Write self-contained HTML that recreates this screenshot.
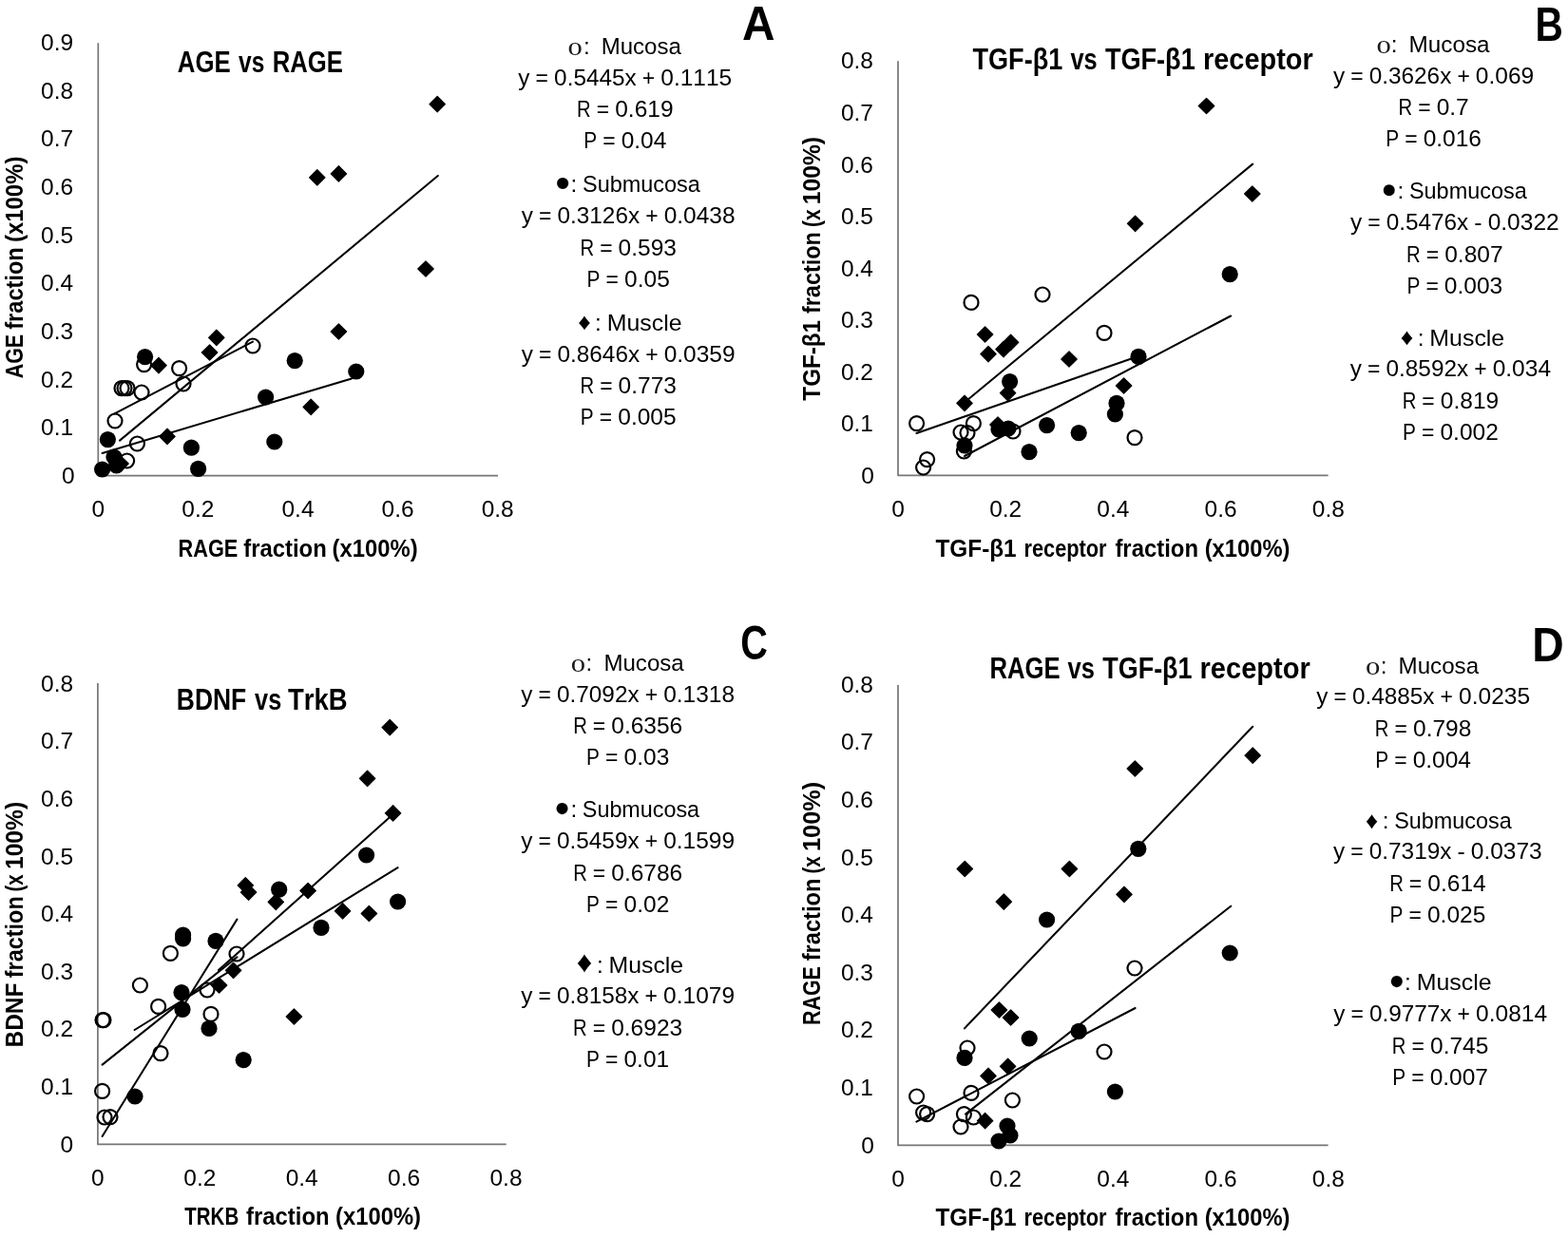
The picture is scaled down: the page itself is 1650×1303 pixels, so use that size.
<!DOCTYPE html>
<html lang="en"><head><meta charset="utf-8"><title>Figure</title>
<style>
html,body{margin:0;padding:0;background:#fff}
body{width:1650px;height:1303px;overflow:hidden}
svg{display:block}
text{fill:#000;font-kerning:none}
</style></head><body>
<svg width="1650" height="1303" viewBox="0 0 1650 1303">
<rect width="1650" height="1303" fill="#fff"/>
<g id="shapes">
<path d="M103.30 45.20V500.70H524.00" fill="none" stroke="#767676" stroke-width="1.70" stroke-linejoin="round"/>
<path d="M945.00 64.30V500.30H1397.60" fill="none" stroke="#767676" stroke-width="1.70" stroke-linejoin="round"/>
<path d="M102.90 719.10V1204.45H532.70" fill="none" stroke="#767676" stroke-width="1.70" stroke-linejoin="round"/>
<path d="M945.00 721.00V1205.40H1397.60" fill="none" stroke="#767676" stroke-width="1.70" stroke-linejoin="round"/>
<path d="M118.8 488.0l8.2 -8.2l8.2 8.2l-8.2 8.2z" stroke="#000" stroke-width="1.2" stroke-linejoin="round"/>
<path d="M158.8 384.6l8.2 -8.2l8.2 8.2l-8.2 8.2z" stroke="#000" stroke-width="1.2" stroke-linejoin="round"/>
<path d="M167.8 459.4l8.2 -8.2l8.2 8.2l-8.2 8.2z" stroke="#000" stroke-width="1.2" stroke-linejoin="round"/>
<path d="M212.4 371.0l8.2 -8.2l8.2 8.2l-8.2 8.2z" stroke="#000" stroke-width="1.2" stroke-linejoin="round"/>
<path d="M219.6 355.4l8.2 -8.2l8.2 8.2l-8.2 8.2z" stroke="#000" stroke-width="1.2" stroke-linejoin="round"/>
<path d="M319.0 428.4l8.2 -8.2l8.2 8.2l-8.2 8.2z" stroke="#000" stroke-width="1.2" stroke-linejoin="round"/>
<path d="M348.2 349.0l8.2 -8.2l8.2 8.2l-8.2 8.2z" stroke="#000" stroke-width="1.2" stroke-linejoin="round"/>
<path d="M325.6 186.8l8.2 -8.2l8.2 8.2l-8.2 8.2z" stroke="#000" stroke-width="1.2" stroke-linejoin="round"/>
<path d="M348.2 182.9l8.2 -8.2l8.2 8.2l-8.2 8.2z" stroke="#000" stroke-width="1.2" stroke-linejoin="round"/>
<path d="M452.0 109.7l8.2 -8.2l8.2 8.2l-8.2 8.2z" stroke="#000" stroke-width="1.2" stroke-linejoin="round"/>
<path d="M439.8 283.0l8.2 -8.2l8.2 8.2l-8.2 8.2z" stroke="#000" stroke-width="1.2" stroke-linejoin="round"/>
<circle cx="121.0" cy="443.0" r="7.5" fill="none" stroke="#000" stroke-width="2.2"/>
<circle cx="144.4" cy="467.0" r="7.5" fill="none" stroke="#000" stroke-width="2.2"/>
<circle cx="133.6" cy="485.0" r="7.5" fill="none" stroke="#000" stroke-width="2.2"/>
<circle cx="128.0" cy="408.6" r="7.5" fill="none" stroke="#000" stroke-width="2.2"/>
<circle cx="131.0" cy="408.6" r="7.5" fill="none" stroke="#000" stroke-width="2.2"/>
<circle cx="134.0" cy="408.6" r="7.5" fill="none" stroke="#000" stroke-width="2.2"/>
<circle cx="149.0" cy="413.0" r="7.5" fill="none" stroke="#000" stroke-width="2.2"/>
<circle cx="151.6" cy="383.6" r="7.5" fill="none" stroke="#000" stroke-width="2.2"/>
<circle cx="188.6" cy="387.6" r="7.5" fill="none" stroke="#000" stroke-width="2.2"/>
<circle cx="193.0" cy="404.0" r="7.5" fill="none" stroke="#000" stroke-width="2.2"/>
<circle cx="266.0" cy="364.0" r="7.5" fill="none" stroke="#000" stroke-width="2.2"/>
<circle cx="107.6" cy="494.0" r="8.6"/>
<circle cx="113.4" cy="462.6" r="8.6"/>
<circle cx="120.0" cy="481.0" r="8.6"/>
<circle cx="122.6" cy="490.0" r="8.6"/>
<circle cx="152.6" cy="375.6" r="8.6"/>
<circle cx="201.4" cy="471.2" r="8.6"/>
<circle cx="208.6" cy="493.4" r="8.6"/>
<circle cx="279.6" cy="418.0" r="8.6"/>
<circle cx="288.8" cy="465.0" r="8.6"/>
<circle cx="310.2" cy="379.6" r="8.6"/>
<circle cx="374.8" cy="391.0" r="8.6"/>
<path d="M120.0 435.6L266.0 359.6" fill="none" stroke="#000" stroke-width="2.05" stroke-linecap="round"/>
<path d="M107.6 477.0L370.0 398.4" fill="none" stroke="#000" stroke-width="2.05" stroke-linecap="round"/>
<path d="M126.0 463.6L460.8 185.0" fill="none" stroke="#000" stroke-width="2.05" stroke-linecap="round"/>
<path d="M1006.8 424.4l8.2 -8.2l8.2 8.2l-8.2 8.2z" stroke="#000" stroke-width="1.2" stroke-linejoin="round"/>
<path d="M1028.4 352.0l8.2 -8.2l8.2 8.2l-8.2 8.2z" stroke="#000" stroke-width="1.2" stroke-linejoin="round"/>
<path d="M1031.8 372.6l8.2 -8.2l8.2 8.2l-8.2 8.2z" stroke="#000" stroke-width="1.2" stroke-linejoin="round"/>
<path d="M1047.8 367.6l8.2 -8.2l8.2 8.2l-8.2 8.2z" stroke="#000" stroke-width="1.2" stroke-linejoin="round"/>
<path d="M1055.4 360.4l8.2 -8.2l8.2 8.2l-8.2 8.2z" stroke="#000" stroke-width="1.2" stroke-linejoin="round"/>
<path d="M1052.4 413.6l8.2 -8.2l8.2 8.2l-8.2 8.2z" stroke="#000" stroke-width="1.2" stroke-linejoin="round"/>
<path d="M1041.8 447.0l8.2 -8.2l8.2 8.2l-8.2 8.2z" stroke="#000" stroke-width="1.2" stroke-linejoin="round"/>
<path d="M1116.8 378.0l8.2 -8.2l8.2 8.2l-8.2 8.2z" stroke="#000" stroke-width="1.2" stroke-linejoin="round"/>
<path d="M1174.4 406.0l8.2 -8.2l8.2 8.2l-8.2 8.2z" stroke="#000" stroke-width="1.2" stroke-linejoin="round"/>
<path d="M1186.4 235.4l8.2 -8.2l8.2 8.2l-8.2 8.2z" stroke="#000" stroke-width="1.2" stroke-linejoin="round"/>
<path d="M1261.3 111.5l8.2 -8.2l8.2 8.2l-8.2 8.2z" stroke="#000" stroke-width="1.2" stroke-linejoin="round"/>
<path d="M1309.6 204.0l8.2 -8.2l8.2 8.2l-8.2 8.2z" stroke="#000" stroke-width="1.2" stroke-linejoin="round"/>
<circle cx="964.6" cy="445.6" r="7.5" fill="none" stroke="#000" stroke-width="2.2"/>
<circle cx="971.6" cy="492.0" r="7.5" fill="none" stroke="#000" stroke-width="2.2"/>
<circle cx="975.6" cy="483.6" r="7.5" fill="none" stroke="#000" stroke-width="2.2"/>
<circle cx="1011.0" cy="455.0" r="7.5" fill="none" stroke="#000" stroke-width="2.2"/>
<circle cx="1018.0" cy="455.6" r="7.5" fill="none" stroke="#000" stroke-width="2.2"/>
<circle cx="1024.4" cy="445.6" r="7.5" fill="none" stroke="#000" stroke-width="2.2"/>
<circle cx="1014.4" cy="475.0" r="7.5" fill="none" stroke="#000" stroke-width="2.2"/>
<circle cx="1022.0" cy="318.4" r="7.5" fill="none" stroke="#000" stroke-width="2.2"/>
<circle cx="1066.0" cy="454.0" r="7.5" fill="none" stroke="#000" stroke-width="2.2"/>
<circle cx="1097.0" cy="310.0" r="7.5" fill="none" stroke="#000" stroke-width="2.2"/>
<circle cx="1162.0" cy="350.4" r="7.5" fill="none" stroke="#000" stroke-width="2.2"/>
<circle cx="1194.0" cy="460.6" r="7.5" fill="none" stroke="#000" stroke-width="2.2"/>
<circle cx="1015.0" cy="469.0" r="8.6"/>
<circle cx="1051.0" cy="452.0" r="8.6"/>
<circle cx="1061.0" cy="451.0" r="8.6"/>
<circle cx="1062.6" cy="401.6" r="8.6"/>
<circle cx="1083.0" cy="475.6" r="8.6"/>
<circle cx="1101.6" cy="447.6" r="8.6"/>
<circle cx="1135.2" cy="455.6" r="8.6"/>
<circle cx="1175.0" cy="424.4" r="8.6"/>
<circle cx="1173.4" cy="436.0" r="8.6"/>
<circle cx="1198.0" cy="375.4" r="8.6"/>
<circle cx="1294.2" cy="288.7" r="8.6"/>
<path d="M964.4 456.0L1192.0 377.0" fill="none" stroke="#000" stroke-width="2.05" stroke-linecap="round"/>
<path d="M1015.0 480.0L1295.2 332.5" fill="none" stroke="#000" stroke-width="2.05" stroke-linecap="round"/>
<path d="M1018.0 421.0L1318.2 172.6" fill="none" stroke="#000" stroke-width="2.05" stroke-linecap="round"/>
<path d="M222.4 1037.0l8.2 -8.2l8.2 8.2l-8.2 8.2z" stroke="#000" stroke-width="1.2" stroke-linejoin="round"/>
<path d="M237.4 1021.4l8.2 -8.2l8.2 8.2l-8.2 8.2z" stroke="#000" stroke-width="1.2" stroke-linejoin="round"/>
<path d="M301.2 1070.0l8.2 -8.2l8.2 8.2l-8.2 8.2z" stroke="#000" stroke-width="1.2" stroke-linejoin="round"/>
<path d="M352.4 958.8l8.2 -8.2l8.2 8.2l-8.2 8.2z" stroke="#000" stroke-width="1.2" stroke-linejoin="round"/>
<path d="M380.2 961.5l8.2 -8.2l8.2 8.2l-8.2 8.2z" stroke="#000" stroke-width="1.2" stroke-linejoin="round"/>
<path d="M402.0 765.7l8.2 -8.2l8.2 8.2l-8.2 8.2z" stroke="#000" stroke-width="1.2" stroke-linejoin="round"/>
<path d="M378.4 819.4l8.2 -8.2l8.2 8.2l-8.2 8.2z" stroke="#000" stroke-width="1.2" stroke-linejoin="round"/>
<path d="M405.4 855.8l8.2 -8.2l8.2 8.2l-8.2 8.2z" stroke="#000" stroke-width="1.2" stroke-linejoin="round"/>
<path d="M250.1 931.8l8.2 -8.2l8.2 8.2l-8.2 8.2z" stroke="#000" stroke-width="1.2" stroke-linejoin="round"/>
<path d="M253.4 939.2l8.2 -8.2l8.2 8.2l-8.2 8.2z" stroke="#000" stroke-width="1.2" stroke-linejoin="round"/>
<path d="M282.1 949.3l8.2 -8.2l8.2 8.2l-8.2 8.2z" stroke="#000" stroke-width="1.2" stroke-linejoin="round"/>
<path d="M315.9 937.5l8.2 -8.2l8.2 8.2l-8.2 8.2z" stroke="#000" stroke-width="1.2" stroke-linejoin="round"/>
<circle cx="109.0" cy="1073.6" r="7.5" fill="none" stroke="#000" stroke-width="2.2"/>
<circle cx="108.0" cy="1073.6" r="7.5" fill="none" stroke="#000" stroke-width="2.2"/>
<circle cx="107.6" cy="1148.4" r="7.5" fill="none" stroke="#000" stroke-width="2.2"/>
<circle cx="110.0" cy="1176.0" r="7.5" fill="none" stroke="#000" stroke-width="2.2"/>
<circle cx="116.0" cy="1175.6" r="7.5" fill="none" stroke="#000" stroke-width="2.2"/>
<circle cx="147.4" cy="1037.0" r="7.5" fill="none" stroke="#000" stroke-width="2.2"/>
<circle cx="166.6" cy="1059.4" r="7.5" fill="none" stroke="#000" stroke-width="2.2"/>
<circle cx="169.0" cy="1108.6" r="7.5" fill="none" stroke="#000" stroke-width="2.2"/>
<circle cx="179.4" cy="1003.4" r="7.5" fill="none" stroke="#000" stroke-width="2.2"/>
<circle cx="218.0" cy="1042.0" r="7.5" fill="none" stroke="#000" stroke-width="2.2"/>
<circle cx="222.0" cy="1067.4" r="7.5" fill="none" stroke="#000" stroke-width="2.2"/>
<circle cx="249.0" cy="1004.0" r="7.5" fill="none" stroke="#000" stroke-width="2.2"/>
<circle cx="142.0" cy="1154.0" r="8.6"/>
<circle cx="192.6" cy="984.0" r="8.6"/>
<circle cx="192.6" cy="988.0" r="8.6"/>
<circle cx="191.0" cy="1044.6" r="8.6"/>
<circle cx="192.0" cy="1062.4" r="8.6"/>
<circle cx="227.0" cy="990.4" r="8.6"/>
<circle cx="220.0" cy="1082.4" r="8.6"/>
<circle cx="256.2" cy="1115.6" r="8.6"/>
<circle cx="338.0" cy="976.4" r="8.6"/>
<circle cx="385.6" cy="900.0" r="8.6"/>
<circle cx="293.7" cy="936.2" r="8.6"/>
<circle cx="418.6" cy="949.0" r="8.6"/>
<path d="M107.6 1120.6L249.4 1007.4" fill="none" stroke="#000" stroke-width="2.05" stroke-linecap="round"/>
<path d="M141.6 1084.0L418.6 913.2" fill="none" stroke="#000" stroke-width="2.05" stroke-linecap="round"/>
<path d="M230.0 1021.0L413.6 857.0" fill="none" stroke="#000" stroke-width="2.05" stroke-linecap="round"/>
<path d="M107.6 1196.0L249.4 967.6" fill="none" stroke="#000" stroke-width="2.05" stroke-linecap="round"/>
<path d="M1043.2 1063.0l8.2 -8.2l8.2 8.2l-8.2 8.2z" stroke="#000" stroke-width="1.2" stroke-linejoin="round"/>
<path d="M1055.4 1071.0l8.2 -8.2l8.2 8.2l-8.2 8.2z" stroke="#000" stroke-width="1.2" stroke-linejoin="round"/>
<path d="M1052.4 1122.4l8.2 -8.2l8.2 8.2l-8.2 8.2z" stroke="#000" stroke-width="1.2" stroke-linejoin="round"/>
<path d="M1031.8 1132.4l8.2 -8.2l8.2 8.2l-8.2 8.2z" stroke="#000" stroke-width="1.2" stroke-linejoin="round"/>
<path d="M1028.4 1179.6l8.2 -8.2l8.2 8.2l-8.2 8.2z" stroke="#000" stroke-width="1.2" stroke-linejoin="round"/>
<path d="M1007.1 914.5l8.2 -8.2l8.2 8.2l-8.2 8.2z" stroke="#000" stroke-width="1.2" stroke-linejoin="round"/>
<path d="M1048.1 949.1l8.2 -8.2l8.2 8.2l-8.2 8.2z" stroke="#000" stroke-width="1.2" stroke-linejoin="round"/>
<path d="M1117.2 914.5l8.2 -8.2l8.2 8.2l-8.2 8.2z" stroke="#000" stroke-width="1.2" stroke-linejoin="round"/>
<path d="M1174.8 941.3l8.2 -8.2l8.2 8.2l-8.2 8.2z" stroke="#000" stroke-width="1.2" stroke-linejoin="round"/>
<path d="M1186.1 809.0l8.2 -8.2l8.2 8.2l-8.2 8.2z" stroke="#000" stroke-width="1.2" stroke-linejoin="round"/>
<path d="M1310.0 795.2l8.2 -8.2l8.2 8.2l-8.2 8.2z" stroke="#000" stroke-width="1.2" stroke-linejoin="round"/>
<circle cx="964.6" cy="1154.0" r="7.5" fill="none" stroke="#000" stroke-width="2.2"/>
<circle cx="971.6" cy="1171.0" r="7.5" fill="none" stroke="#000" stroke-width="2.2"/>
<circle cx="975.6" cy="1172.6" r="7.5" fill="none" stroke="#000" stroke-width="2.2"/>
<circle cx="1011.0" cy="1186.0" r="7.5" fill="none" stroke="#000" stroke-width="2.2"/>
<circle cx="1014.4" cy="1172.6" r="7.5" fill="none" stroke="#000" stroke-width="2.2"/>
<circle cx="1024.4" cy="1176.0" r="7.5" fill="none" stroke="#000" stroke-width="2.2"/>
<circle cx="1022.0" cy="1150.4" r="7.5" fill="none" stroke="#000" stroke-width="2.2"/>
<circle cx="1018.0" cy="1103.0" r="7.5" fill="none" stroke="#000" stroke-width="2.2"/>
<circle cx="1065.4" cy="1158.0" r="7.5" fill="none" stroke="#000" stroke-width="2.2"/>
<circle cx="1162.0" cy="1107.0" r="7.5" fill="none" stroke="#000" stroke-width="2.2"/>
<circle cx="1194.0" cy="1019.0" r="7.5" fill="none" stroke="#000" stroke-width="2.2"/>
<circle cx="1015.0" cy="1113.4" r="8.6"/>
<circle cx="1051.0" cy="1201.0" r="8.6"/>
<circle cx="1060.0" cy="1185.0" r="8.6"/>
<circle cx="1063.0" cy="1195.0" r="8.6"/>
<circle cx="1083.2" cy="1093.0" r="8.6"/>
<circle cx="1101.6" cy="968.0" r="8.6"/>
<circle cx="1135.2" cy="1085.4" r="8.6"/>
<circle cx="1173.4" cy="1149.0" r="8.6"/>
<circle cx="1197.8" cy="893.3" r="8.6"/>
<circle cx="1294.2" cy="1003.0" r="8.6"/>
<path d="M1015.0 1082.4L1318.2 764.8" fill="none" stroke="#000" stroke-width="2.05" stroke-linecap="round"/>
<path d="M1016.0 1172.6L1295.2 953.7" fill="none" stroke="#000" stroke-width="2.05" stroke-linecap="round"/>
<path d="M964.4 1180.6L1194.6 1061.0" fill="none" stroke="#000" stroke-width="2.05" stroke-linecap="round"/>
</g>
<g id="labels">
<text y="508.90" font-family='"Liberation Sans", sans-serif' font-size="24.30"><tspan x="64.97" y="508.90" textLength="13.63" lengthAdjust="spacingAndGlyphs">0</tspan></text>
<text y="458.26" font-family='"Liberation Sans", sans-serif' font-size="24.30"><tspan x="43.14" y="458.26" textLength="34.06" lengthAdjust="spacingAndGlyphs">0.1</tspan></text>
<text y="407.62" font-family='"Liberation Sans", sans-serif' font-size="24.30"><tspan x="43.14" y="407.62" textLength="34.06" lengthAdjust="spacingAndGlyphs">0.2</tspan></text>
<text y="356.98" font-family='"Liberation Sans", sans-serif' font-size="24.30"><tspan x="43.14" y="356.98" textLength="34.06" lengthAdjust="spacingAndGlyphs">0.3</tspan></text>
<text y="306.34" font-family='"Liberation Sans", sans-serif' font-size="24.30"><tspan x="43.14" y="306.34" textLength="34.06" lengthAdjust="spacingAndGlyphs">0.4</tspan></text>
<text y="255.70" font-family='"Liberation Sans", sans-serif' font-size="24.30"><tspan x="43.14" y="255.70" textLength="34.06" lengthAdjust="spacingAndGlyphs">0.5</tspan></text>
<text y="205.06" font-family='"Liberation Sans", sans-serif' font-size="24.30"><tspan x="43.14" y="205.06" textLength="34.06" lengthAdjust="spacingAndGlyphs">0.6</tspan></text>
<text y="154.42" font-family='"Liberation Sans", sans-serif' font-size="24.30"><tspan x="43.14" y="154.42" textLength="34.06" lengthAdjust="spacingAndGlyphs">0.7</tspan></text>
<text y="103.78" font-family='"Liberation Sans", sans-serif' font-size="24.30"><tspan x="43.14" y="103.78" textLength="34.06" lengthAdjust="spacingAndGlyphs">0.8</tspan></text>
<text y="53.14" font-family='"Liberation Sans", sans-serif' font-size="24.30"><tspan x="43.14" y="53.14" textLength="34.06" lengthAdjust="spacingAndGlyphs">0.9</tspan></text>
<text y="544.40" font-family='"Liberation Sans", sans-serif' font-size="24.30"><tspan x="96.48" y="544.40" textLength="13.63" lengthAdjust="spacingAndGlyphs">0</tspan></text>
<text y="544.40" font-family='"Liberation Sans", sans-serif' font-size="24.30"><tspan x="191.37" y="544.40" textLength="34.06" lengthAdjust="spacingAndGlyphs">0.2</tspan></text>
<text y="544.40" font-family='"Liberation Sans", sans-serif' font-size="24.30"><tspan x="296.47" y="544.40" textLength="34.06" lengthAdjust="spacingAndGlyphs">0.4</tspan></text>
<text y="544.40" font-family='"Liberation Sans", sans-serif' font-size="24.30"><tspan x="401.57" y="544.40" textLength="34.06" lengthAdjust="spacingAndGlyphs">0.6</tspan></text>
<text y="544.40" font-family='"Liberation Sans", sans-serif' font-size="24.30"><tspan x="506.67" y="544.40" textLength="34.06" lengthAdjust="spacingAndGlyphs">0.8</tspan></text>
<text y="508.90" font-family='"Liberation Sans", sans-serif' font-size="24.30"><tspan x="906.17" y="508.90" textLength="13.63" lengthAdjust="spacingAndGlyphs">0</tspan></text>
<text y="454.34" font-family='"Liberation Sans", sans-serif' font-size="24.30"><tspan x="884.94" y="454.34" textLength="34.06" lengthAdjust="spacingAndGlyphs">0.1</tspan></text>
<text y="399.78" font-family='"Liberation Sans", sans-serif' font-size="24.30"><tspan x="884.94" y="399.78" textLength="34.06" lengthAdjust="spacingAndGlyphs">0.2</tspan></text>
<text y="345.22" font-family='"Liberation Sans", sans-serif' font-size="24.30"><tspan x="884.94" y="345.22" textLength="34.06" lengthAdjust="spacingAndGlyphs">0.3</tspan></text>
<text y="290.66" font-family='"Liberation Sans", sans-serif' font-size="24.30"><tspan x="884.94" y="290.66" textLength="34.06" lengthAdjust="spacingAndGlyphs">0.4</tspan></text>
<text y="236.10" font-family='"Liberation Sans", sans-serif' font-size="24.30"><tspan x="884.94" y="236.10" textLength="34.06" lengthAdjust="spacingAndGlyphs">0.5</tspan></text>
<text y="181.54" font-family='"Liberation Sans", sans-serif' font-size="24.30"><tspan x="884.94" y="181.54" textLength="34.06" lengthAdjust="spacingAndGlyphs">0.6</tspan></text>
<text y="126.98" font-family='"Liberation Sans", sans-serif' font-size="24.30"><tspan x="884.94" y="126.98" textLength="34.06" lengthAdjust="spacingAndGlyphs">0.7</tspan></text>
<text y="72.42" font-family='"Liberation Sans", sans-serif' font-size="24.30"><tspan x="884.94" y="72.42" textLength="34.06" lengthAdjust="spacingAndGlyphs">0.8</tspan></text>
<text y="544.30" font-family='"Liberation Sans", sans-serif' font-size="24.30"><tspan x="938.18" y="544.30" textLength="13.63" lengthAdjust="spacingAndGlyphs">0</tspan></text>
<text y="544.30" font-family='"Liberation Sans", sans-serif' font-size="24.30"><tspan x="1041.17" y="544.30" textLength="34.06" lengthAdjust="spacingAndGlyphs">0.2</tspan></text>
<text y="544.30" font-family='"Liberation Sans", sans-serif' font-size="24.30"><tspan x="1154.37" y="544.30" textLength="34.06" lengthAdjust="spacingAndGlyphs">0.4</tspan></text>
<text y="544.30" font-family='"Liberation Sans", sans-serif' font-size="24.30"><tspan x="1267.57" y="544.30" textLength="34.06" lengthAdjust="spacingAndGlyphs">0.6</tspan></text>
<text y="544.30" font-family='"Liberation Sans", sans-serif' font-size="24.30"><tspan x="1380.77" y="544.30" textLength="34.06" lengthAdjust="spacingAndGlyphs">0.8</tspan></text>
<text y="1212.50" font-family='"Liberation Sans", sans-serif' font-size="24.30"><tspan x="63.57" y="1212.50" textLength="13.63" lengthAdjust="spacingAndGlyphs">0</tspan></text>
<text y="1151.91" font-family='"Liberation Sans", sans-serif' font-size="24.30"><tspan x="43.14" y="1151.91" textLength="34.06" lengthAdjust="spacingAndGlyphs">0.1</tspan></text>
<text y="1091.32" font-family='"Liberation Sans", sans-serif' font-size="24.30"><tspan x="43.14" y="1091.32" textLength="34.06" lengthAdjust="spacingAndGlyphs">0.2</tspan></text>
<text y="1030.73" font-family='"Liberation Sans", sans-serif' font-size="24.30"><tspan x="43.14" y="1030.73" textLength="34.06" lengthAdjust="spacingAndGlyphs">0.3</tspan></text>
<text y="970.14" font-family='"Liberation Sans", sans-serif' font-size="24.30"><tspan x="43.14" y="970.14" textLength="34.06" lengthAdjust="spacingAndGlyphs">0.4</tspan></text>
<text y="909.55" font-family='"Liberation Sans", sans-serif' font-size="24.30"><tspan x="43.14" y="909.55" textLength="34.06" lengthAdjust="spacingAndGlyphs">0.5</tspan></text>
<text y="848.96" font-family='"Liberation Sans", sans-serif' font-size="24.30"><tspan x="43.14" y="848.96" textLength="34.06" lengthAdjust="spacingAndGlyphs">0.6</tspan></text>
<text y="788.37" font-family='"Liberation Sans", sans-serif' font-size="24.30"><tspan x="43.14" y="788.37" textLength="34.06" lengthAdjust="spacingAndGlyphs">0.7</tspan></text>
<text y="727.78" font-family='"Liberation Sans", sans-serif' font-size="24.30"><tspan x="43.14" y="727.78" textLength="34.06" lengthAdjust="spacingAndGlyphs">0.8</tspan></text>
<text y="1248.00" font-family='"Liberation Sans", sans-serif' font-size="24.30"><tspan x="96.08" y="1248.00" textLength="13.63" lengthAdjust="spacingAndGlyphs">0</tspan></text>
<text y="1248.00" font-family='"Liberation Sans", sans-serif' font-size="24.30"><tspan x="193.27" y="1248.00" textLength="34.06" lengthAdjust="spacingAndGlyphs">0.2</tspan></text>
<text y="1248.00" font-family='"Liberation Sans", sans-serif' font-size="24.30"><tspan x="300.67" y="1248.00" textLength="34.06" lengthAdjust="spacingAndGlyphs">0.4</tspan></text>
<text y="1248.00" font-family='"Liberation Sans", sans-serif' font-size="24.30"><tspan x="408.07" y="1248.00" textLength="34.06" lengthAdjust="spacingAndGlyphs">0.6</tspan></text>
<text y="1248.00" font-family='"Liberation Sans", sans-serif' font-size="24.30"><tspan x="515.47" y="1248.00" textLength="34.06" lengthAdjust="spacingAndGlyphs">0.8</tspan></text>
<text y="1213.60" font-family='"Liberation Sans", sans-serif' font-size="24.30"><tspan x="906.17" y="1213.60" textLength="13.63" lengthAdjust="spacingAndGlyphs">0</tspan></text>
<text y="1152.98" font-family='"Liberation Sans", sans-serif' font-size="24.30"><tspan x="884.94" y="1152.98" textLength="34.06" lengthAdjust="spacingAndGlyphs">0.1</tspan></text>
<text y="1092.36" font-family='"Liberation Sans", sans-serif' font-size="24.30"><tspan x="884.94" y="1092.36" textLength="34.06" lengthAdjust="spacingAndGlyphs">0.2</tspan></text>
<text y="1031.74" font-family='"Liberation Sans", sans-serif' font-size="24.30"><tspan x="884.94" y="1031.74" textLength="34.06" lengthAdjust="spacingAndGlyphs">0.3</tspan></text>
<text y="971.12" font-family='"Liberation Sans", sans-serif' font-size="24.30"><tspan x="884.94" y="971.12" textLength="34.06" lengthAdjust="spacingAndGlyphs">0.4</tspan></text>
<text y="910.50" font-family='"Liberation Sans", sans-serif' font-size="24.30"><tspan x="884.94" y="910.50" textLength="34.06" lengthAdjust="spacingAndGlyphs">0.5</tspan></text>
<text y="849.88" font-family='"Liberation Sans", sans-serif' font-size="24.30"><tspan x="884.94" y="849.88" textLength="34.06" lengthAdjust="spacingAndGlyphs">0.6</tspan></text>
<text y="789.26" font-family='"Liberation Sans", sans-serif' font-size="24.30"><tspan x="884.94" y="789.26" textLength="34.06" lengthAdjust="spacingAndGlyphs">0.7</tspan></text>
<text y="728.64" font-family='"Liberation Sans", sans-serif' font-size="24.30"><tspan x="884.94" y="728.64" textLength="34.06" lengthAdjust="spacingAndGlyphs">0.8</tspan></text>
<text y="1248.60" font-family='"Liberation Sans", sans-serif' font-size="24.30"><tspan x="938.18" y="1248.60" textLength="13.63" lengthAdjust="spacingAndGlyphs">0</tspan></text>
<text y="1248.60" font-family='"Liberation Sans", sans-serif' font-size="24.30"><tspan x="1041.17" y="1248.60" textLength="34.06" lengthAdjust="spacingAndGlyphs">0.2</tspan></text>
<text y="1248.60" font-family='"Liberation Sans", sans-serif' font-size="24.30"><tspan x="1154.37" y="1248.60" textLength="34.06" lengthAdjust="spacingAndGlyphs">0.4</tspan></text>
<text y="1248.60" font-family='"Liberation Sans", sans-serif' font-size="24.30"><tspan x="1267.57" y="1248.60" textLength="34.06" lengthAdjust="spacingAndGlyphs">0.6</tspan></text>
<text y="1248.60" font-family='"Liberation Sans", sans-serif' font-size="24.30"><tspan x="1380.77" y="1248.60" textLength="34.06" lengthAdjust="spacingAndGlyphs">0.8</tspan></text>
<text y="75.90" font-family='"Liberation Sans", sans-serif' font-size="30.80" font-weight="bold"><tspan x="186.86" y="75.90" textLength="55.85" lengthAdjust="spacingAndGlyphs">AGE</tspan> <tspan x="251.10" y="75.90" textLength="27.30" lengthAdjust="spacingAndGlyphs">vs</tspan> <tspan x="286.68" y="75.90" textLength="74.12" lengthAdjust="spacingAndGlyphs">RAGE</tspan></text>
<text y="73.00" font-family='"Liberation Sans", sans-serif' font-size="30.80" font-weight="bold"><tspan x="1023.50" y="73.00" textLength="94.76" lengthAdjust="spacingAndGlyphs">TGF-β1</tspan> <tspan x="1126.40" y="73.00" textLength="28.24" lengthAdjust="spacingAndGlyphs">vs</tspan> <tspan x="1162.90" y="73.00" textLength="94.86" lengthAdjust="spacingAndGlyphs">TGF-β1</tspan> <tspan x="1265.99" y="73.00" textLength="115.74" lengthAdjust="spacingAndGlyphs">receptor</tspan></text>
<text y="746.60" font-family='"Liberation Sans", sans-serif' font-size="30.80" font-weight="bold"><tspan x="185.83" y="746.60" textLength="73.44" lengthAdjust="spacingAndGlyphs">BDNF</tspan> <tspan x="268.10" y="746.60" textLength="28.14" lengthAdjust="spacingAndGlyphs">vs</tspan> <tspan x="302.89" y="746.60" textLength="62.66" lengthAdjust="spacingAndGlyphs">TrkB</tspan></text>
<text y="713.50" font-family='"Liberation Sans", sans-serif' font-size="30.80" font-weight="bold"><tspan x="1041.38" y="713.50" textLength="74.12" lengthAdjust="spacingAndGlyphs">RAGE</tspan> <tspan x="1123.60" y="713.50" textLength="28.34" lengthAdjust="spacingAndGlyphs">vs</tspan> <tspan x="1160.30" y="713.50" textLength="94.25" lengthAdjust="spacingAndGlyphs">TGF-β1</tspan> <tspan x="1262.48" y="713.50" textLength="116.36" lengthAdjust="spacingAndGlyphs">receptor</tspan></text>
<text y="585.60" font-family='"Liberation Sans", sans-serif' font-size="25.00" font-weight="bold"><tspan x="187.55" y="585.60" textLength="62.80" lengthAdjust="spacingAndGlyphs">RAGE</tspan> <tspan x="256.29" y="585.60" textLength="87.49" lengthAdjust="spacingAndGlyphs">fraction</tspan> <tspan x="349.51" y="585.60" textLength="90.18" lengthAdjust="spacingAndGlyphs">(x100%)</tspan></text>
<text y="585.50" font-family='"Liberation Sans", sans-serif' font-size="25.00" font-weight="bold"><tspan x="984.43" y="585.50" textLength="85.25" lengthAdjust="spacingAndGlyphs">TGF-β1</tspan> <tspan x="1077.57" y="585.50" textLength="86.96" lengthAdjust="spacingAndGlyphs">receptor</tspan> <tspan x="1173.39" y="585.50" textLength="87.69" lengthAdjust="spacingAndGlyphs">fraction</tspan> <tspan x="1267.72" y="585.50" textLength="89.66" lengthAdjust="spacingAndGlyphs">(x100%)</tspan></text>
<text y="1289.30" font-family='"Liberation Sans", sans-serif' font-size="25.00" font-weight="bold"><tspan x="194.27" y="1289.30" textLength="56.96" lengthAdjust="spacingAndGlyphs">TRKB</tspan> <tspan x="259.09" y="1289.30" textLength="87.49" lengthAdjust="spacingAndGlyphs">fraction</tspan> <tspan x="353.12" y="1289.30" textLength="89.87" lengthAdjust="spacingAndGlyphs">(x100%)</tspan></text>
<text y="1290.20" font-family='"Liberation Sans", sans-serif' font-size="25.00" font-weight="bold"><tspan x="984.43" y="1290.20" textLength="85.25" lengthAdjust="spacingAndGlyphs">TGF-β1</tspan> <tspan x="1077.57" y="1290.20" textLength="86.96" lengthAdjust="spacingAndGlyphs">receptor</tspan> <tspan x="1173.39" y="1290.20" textLength="87.69" lengthAdjust="spacingAndGlyphs">fraction</tspan> <tspan x="1267.72" y="1290.20" textLength="89.66" lengthAdjust="spacingAndGlyphs">(x100%)</tspan></text>
<text transform="translate(23.90 0) rotate(-90)" font-family='"Liberation Sans", sans-serif' font-size="25.00" font-weight="bold"><tspan x="-398.23" y="0" textLength="46.37" lengthAdjust="spacingAndGlyphs">AGE</tspan> <tspan x="-346.80" y="0" textLength="86.57" lengthAdjust="spacingAndGlyphs">fraction</tspan> <tspan x="-254.99" y="0" textLength="90.38" lengthAdjust="spacingAndGlyphs">(x100%)</tspan></text>
<text transform="translate(862.60 0) rotate(-90)" font-family='"Liberation Sans", sans-serif' font-size="25.00" font-weight="bold"><tspan x="-421.67" y="0" textLength="84.75" lengthAdjust="spacingAndGlyphs">TGF-β1</tspan> <tspan x="-330.10" y="0" textLength="86.06" lengthAdjust="spacingAndGlyphs">fraction</tspan> <tspan x="-239.04" y="0" textLength="18.59" lengthAdjust="spacingAndGlyphs">(x</tspan> <tspan x="-215.15" y="0" textLength="71.18" lengthAdjust="spacingAndGlyphs">100%)</tspan></text>
<text transform="translate(23.90 0) rotate(-90)" font-family='"Liberation Sans", sans-serif' font-size="25.00" font-weight="bold"><tspan x="-1102.54" y="0" textLength="67.93" lengthAdjust="spacingAndGlyphs">BDNF</tspan> <tspan x="-1029.20" y="0" textLength="85.95" lengthAdjust="spacingAndGlyphs">fraction</tspan> <tspan x="-938.41" y="0" textLength="18.06" lengthAdjust="spacingAndGlyphs">(x</tspan> <tspan x="-915.05" y="0" textLength="71.18" lengthAdjust="spacingAndGlyphs">100%)</tspan></text>
<text transform="translate(862.50 0) rotate(-90)" font-family='"Liberation Sans", sans-serif' font-size="25.00" font-weight="bold"><tspan x="-1078.93" y="0" textLength="61.77" lengthAdjust="spacingAndGlyphs">RAGE</tspan> <tspan x="-1011.30" y="0" textLength="86.77" lengthAdjust="spacingAndGlyphs">fraction</tspan> <tspan x="-919.53" y="0" textLength="18.38" lengthAdjust="spacingAndGlyphs">(x</tspan> <tspan x="-896.00" y="0" textLength="73.26" lengthAdjust="spacingAndGlyphs">100%)</tspan></text>
<text y="41.60" font-family='"Liberation Sans", sans-serif' font-size="49.80" font-weight="bold"><tspan x="780.91" y="41.60" textLength="34.45" lengthAdjust="spacingAndGlyphs">A</tspan></text>
<text y="42.90" font-family='"Liberation Sans", sans-serif' font-size="49.80" font-weight="bold"><tspan x="1615.58" y="42.90" textLength="29.37" lengthAdjust="spacingAndGlyphs">B</tspan></text>
<text y="694.00" font-family='"Liberation Sans", sans-serif' font-size="49.80" font-weight="bold"><tspan x="779.28" y="694.00" textLength="28.61" lengthAdjust="spacingAndGlyphs">C</tspan></text>
<text y="695.50" font-family='"Liberation Sans", sans-serif' font-size="49.80" font-weight="bold"><tspan x="1612.30" y="695.50" textLength="33.44" lengthAdjust="spacingAndGlyphs">D</tspan></text>
<text y="57.40" font-family='"Liberation Sans", sans-serif' font-size="24.30"><tspan x="597.63" y="57.80" textLength="15.34" lengthAdjust="spacingAndGlyphs" font-size="28.00" font-family='"Liberation Serif", serif' fill="#1a1a1a">o</tspan><tspan x="613.88" y="57.40">:</tspan>  <tspan x="632.73" y="57.40" textLength="84.07" lengthAdjust="spacingAndGlyphs">Mucosa</tspan></text>
<text y="90.00" font-family='"Liberation Sans", sans-serif' font-size="24.30"><tspan x="545.37" y="90.00" textLength="12.18" lengthAdjust="spacingAndGlyphs">y</tspan> <tspan x="563.62" y="90.00" textLength="13.40" lengthAdjust="spacingAndGlyphs">=</tspan> <tspan x="583.10" y="90.00" textLength="86.61" lengthAdjust="spacingAndGlyphs">0.5445x</tspan> <tspan x="675.79" y="90.00" textLength="13.40" lengthAdjust="spacingAndGlyphs">+</tspan> <tspan x="695.27" y="90.00" textLength="74.96" lengthAdjust="spacingAndGlyphs">0.1115</tspan></text>
<text y="123.40" font-family='"Liberation Sans", sans-serif' font-size="24.30"><tspan x="607.05" y="123.40" textLength="14.61" lengthAdjust="spacingAndGlyphs">R</tspan> <tspan x="627.74" y="123.40" textLength="13.40" lengthAdjust="spacingAndGlyphs">=</tspan> <tspan x="647.22" y="123.40" textLength="61.33" lengthAdjust="spacingAndGlyphs">0.619</tspan></text>
<text y="156.40" font-family='"Liberation Sans", sans-serif' font-size="24.30"><tspan x="614.22" y="156.40" textLength="13.91" lengthAdjust="spacingAndGlyphs">P</tspan> <tspan x="634.21" y="156.40" textLength="13.40" lengthAdjust="spacingAndGlyphs">=</tspan> <tspan x="653.69" y="156.40" textLength="47.69" lengthAdjust="spacingAndGlyphs">0.04</tspan></text>
<text y="201.80" font-family='"Liberation Sans", sans-serif' font-size="24.30"><tspan x="583.54" y="201.30" textLength="17.13" lengthAdjust="spacingAndGlyphs" font-size="28.36">●</tspan><tspan x="600.58" y="201.80">:</tspan> <tspan x="613.03" y="201.80" textLength="123.87" lengthAdjust="spacingAndGlyphs">Submucosa</tspan></text>
<text y="235.20" font-family='"Liberation Sans", sans-serif' font-size="24.30"><tspan x="548.77" y="235.20" textLength="12.18" lengthAdjust="spacingAndGlyphs">y</tspan> <tspan x="567.02" y="235.20" textLength="13.40" lengthAdjust="spacingAndGlyphs">=</tspan> <tspan x="586.50" y="235.20" textLength="86.61" lengthAdjust="spacingAndGlyphs">0.3126x</tspan> <tspan x="679.19" y="235.20" textLength="13.40" lengthAdjust="spacingAndGlyphs">+</tspan> <tspan x="698.67" y="235.20" textLength="74.96" lengthAdjust="spacingAndGlyphs">0.0438</tspan></text>
<text y="268.60" font-family='"Liberation Sans", sans-serif' font-size="24.30"><tspan x="610.45" y="268.60" textLength="14.61" lengthAdjust="spacingAndGlyphs">R</tspan> <tspan x="631.14" y="268.60" textLength="13.40" lengthAdjust="spacingAndGlyphs">=</tspan> <tspan x="650.62" y="268.60" textLength="61.33" lengthAdjust="spacingAndGlyphs">0.593</tspan></text>
<text y="301.90" font-family='"Liberation Sans", sans-serif' font-size="24.30"><tspan x="617.62" y="301.90" textLength="13.91" lengthAdjust="spacingAndGlyphs">P</tspan> <tspan x="637.61" y="301.90" textLength="13.40" lengthAdjust="spacingAndGlyphs">=</tspan> <tspan x="657.09" y="301.90" textLength="47.69" lengthAdjust="spacingAndGlyphs">0.05</tspan></text>
<text y="348.00" font-family='"Liberation Sans", sans-serif' font-size="24.30"><tspan x="608.25" y="347.40" textLength="13.52" lengthAdjust="spacingAndGlyphs" font-size="24.29">♦</tspan><tspan x="626.08" y="348.00">:</tspan> <tspan x="638.76" y="348.00" textLength="78.85" lengthAdjust="spacingAndGlyphs">Muscle</tspan></text>
<text y="380.60" font-family='"Liberation Sans", sans-serif' font-size="24.30"><tspan x="548.77" y="380.60" textLength="12.18" lengthAdjust="spacingAndGlyphs">y</tspan> <tspan x="567.02" y="380.60" textLength="13.40" lengthAdjust="spacingAndGlyphs">=</tspan> <tspan x="586.50" y="380.60" textLength="86.61" lengthAdjust="spacingAndGlyphs">0.8646x</tspan> <tspan x="679.19" y="380.60" textLength="13.40" lengthAdjust="spacingAndGlyphs">+</tspan> <tspan x="698.67" y="380.60" textLength="74.96" lengthAdjust="spacingAndGlyphs">0.0359</tspan></text>
<text y="413.90" font-family='"Liberation Sans", sans-serif' font-size="24.30"><tspan x="610.45" y="413.90" textLength="14.61" lengthAdjust="spacingAndGlyphs">R</tspan> <tspan x="631.14" y="413.90" textLength="13.40" lengthAdjust="spacingAndGlyphs">=</tspan> <tspan x="650.62" y="413.90" textLength="61.33" lengthAdjust="spacingAndGlyphs">0.773</tspan></text>
<text y="446.90" font-family='"Liberation Sans", sans-serif' font-size="24.30"><tspan x="610.80" y="446.90" textLength="13.91" lengthAdjust="spacingAndGlyphs">P</tspan> <tspan x="630.79" y="446.90" textLength="13.40" lengthAdjust="spacingAndGlyphs">=</tspan> <tspan x="650.27" y="446.90" textLength="61.33" lengthAdjust="spacingAndGlyphs">0.005</tspan></text>
<text y="55.10" font-family='"Liberation Sans", sans-serif' font-size="24.30"><tspan x="1448.43" y="55.50" textLength="15.34" lengthAdjust="spacingAndGlyphs" font-size="28.00" font-family='"Liberation Serif", serif' fill="#1a1a1a">o</tspan><tspan x="1463.78" y="55.10">:</tspan>  <tspan x="1482.61" y="55.10" textLength="84.89" lengthAdjust="spacingAndGlyphs">Mucosa</tspan></text>
<text y="87.60" font-family='"Liberation Sans", sans-serif' font-size="24.30"><tspan x="1402.98" y="87.60" textLength="12.18" lengthAdjust="spacingAndGlyphs">y</tspan> <tspan x="1421.24" y="87.60" textLength="13.40" lengthAdjust="spacingAndGlyphs">=</tspan> <tspan x="1440.72" y="87.60" textLength="86.61" lengthAdjust="spacingAndGlyphs">0.3626x</tspan> <tspan x="1533.41" y="87.60" textLength="13.40" lengthAdjust="spacingAndGlyphs">+</tspan> <tspan x="1552.89" y="87.60" textLength="61.33" lengthAdjust="spacingAndGlyphs">0.069</tspan></text>
<text y="120.60" font-family='"Liberation Sans", sans-serif' font-size="24.30"><tspan x="1471.49" y="120.60" textLength="14.61" lengthAdjust="spacingAndGlyphs">R</tspan> <tspan x="1492.17" y="120.60" textLength="13.40" lengthAdjust="spacingAndGlyphs">=</tspan> <tspan x="1511.65" y="120.60" textLength="34.06" lengthAdjust="spacingAndGlyphs">0.7</tspan></text>
<text y="153.80" font-family='"Liberation Sans", sans-serif' font-size="24.30"><tspan x="1458.20" y="153.80" textLength="13.91" lengthAdjust="spacingAndGlyphs">P</tspan> <tspan x="1478.19" y="153.80" textLength="13.40" lengthAdjust="spacingAndGlyphs">=</tspan> <tspan x="1497.67" y="153.80" textLength="61.33" lengthAdjust="spacingAndGlyphs">0.016</tspan></text>
<text y="208.60" font-family='"Liberation Sans", sans-serif' font-size="24.30"><tspan x="1453.58" y="207.97" textLength="16.85" lengthAdjust="spacingAndGlyphs" font-size="27.89">●</tspan><tspan x="1470.48" y="208.60">:</tspan> <tspan x="1482.94" y="208.60" textLength="123.76" lengthAdjust="spacingAndGlyphs">Submucosa</tspan></text>
<text y="242.00" font-family='"Liberation Sans", sans-serif' font-size="24.30"><tspan x="1420.95" y="242.00" textLength="12.18" lengthAdjust="spacingAndGlyphs">y</tspan> <tspan x="1439.20" y="242.00" textLength="13.40" lengthAdjust="spacingAndGlyphs">=</tspan> <tspan x="1458.68" y="242.00" textLength="86.61" lengthAdjust="spacingAndGlyphs">0.5476x</tspan> <tspan x="1551.38" y="242.00" textLength="8.24" lengthAdjust="spacingAndGlyphs">-</tspan> <tspan x="1565.69" y="242.00" textLength="74.96" lengthAdjust="spacingAndGlyphs">0.0322</tspan></text>
<text y="275.50" font-family='"Liberation Sans", sans-serif' font-size="24.30"><tspan x="1480.05" y="275.50" textLength="14.61" lengthAdjust="spacingAndGlyphs">R</tspan> <tspan x="1500.74" y="275.50" textLength="13.40" lengthAdjust="spacingAndGlyphs">=</tspan> <tspan x="1520.22" y="275.50" textLength="61.33" lengthAdjust="spacingAndGlyphs">0.807</tspan></text>
<text y="308.90" font-family='"Liberation Sans", sans-serif' font-size="24.30"><tspan x="1480.40" y="308.90" textLength="13.91" lengthAdjust="spacingAndGlyphs">P</tspan> <tspan x="1500.39" y="308.90" textLength="13.40" lengthAdjust="spacingAndGlyphs">=</tspan> <tspan x="1519.87" y="308.90" textLength="61.33" lengthAdjust="spacingAndGlyphs">0.003</tspan></text>
<text y="363.50" font-family='"Liberation Sans", sans-serif' font-size="24.30"><tspan x="1473.65" y="362.90" textLength="13.52" lengthAdjust="spacingAndGlyphs" font-size="24.29">♦</tspan><tspan x="1491.68" y="363.50">:</tspan> <tspan x="1504.36" y="363.50" textLength="78.85" lengthAdjust="spacingAndGlyphs">Muscle</tspan></text>
<text y="396.20" font-family='"Liberation Sans", sans-serif' font-size="24.30"><tspan x="1420.78" y="396.20" textLength="12.18" lengthAdjust="spacingAndGlyphs">y</tspan> <tspan x="1439.04" y="396.20" textLength="13.40" lengthAdjust="spacingAndGlyphs">=</tspan> <tspan x="1458.52" y="396.20" textLength="86.61" lengthAdjust="spacingAndGlyphs">0.8592x</tspan> <tspan x="1551.21" y="396.20" textLength="13.40" lengthAdjust="spacingAndGlyphs">+</tspan> <tspan x="1570.69" y="396.20" textLength="61.33" lengthAdjust="spacingAndGlyphs">0.034</tspan></text>
<text y="429.60" font-family='"Liberation Sans", sans-serif' font-size="24.30"><tspan x="1475.65" y="429.60" textLength="14.61" lengthAdjust="spacingAndGlyphs">R</tspan> <tspan x="1496.34" y="429.60" textLength="13.40" lengthAdjust="spacingAndGlyphs">=</tspan> <tspan x="1515.82" y="429.60" textLength="61.33" lengthAdjust="spacingAndGlyphs">0.819</tspan></text>
<text y="462.70" font-family='"Liberation Sans", sans-serif' font-size="24.30"><tspan x="1476.00" y="462.70" textLength="13.91" lengthAdjust="spacingAndGlyphs">P</tspan> <tspan x="1495.99" y="462.70" textLength="13.40" lengthAdjust="spacingAndGlyphs">=</tspan> <tspan x="1515.47" y="462.70" textLength="61.33" lengthAdjust="spacingAndGlyphs">0.002</tspan></text>
<text y="706.20" font-family='"Liberation Sans", sans-serif' font-size="24.30"><tspan x="600.73" y="706.60" textLength="15.34" lengthAdjust="spacingAndGlyphs" font-size="28.00" font-family='"Liberation Serif", serif' fill="#1a1a1a">o</tspan><tspan x="616.58" y="706.20">:</tspan>  <tspan x="635.43" y="706.20" textLength="84.27" lengthAdjust="spacingAndGlyphs">Mucosa</tspan></text>
<text y="738.80" font-family='"Liberation Sans", sans-serif' font-size="24.30"><tspan x="548.27" y="738.80" textLength="12.18" lengthAdjust="spacingAndGlyphs">y</tspan> <tspan x="566.52" y="738.80" textLength="13.40" lengthAdjust="spacingAndGlyphs">=</tspan> <tspan x="586.00" y="738.80" textLength="86.61" lengthAdjust="spacingAndGlyphs">0.7092x</tspan> <tspan x="678.69" y="738.80" textLength="13.40" lengthAdjust="spacingAndGlyphs">+</tspan> <tspan x="698.17" y="738.80" textLength="74.96" lengthAdjust="spacingAndGlyphs">0.1318</tspan></text>
<text y="771.80" font-family='"Liberation Sans", sans-serif' font-size="24.30"><tspan x="603.14" y="771.80" textLength="14.61" lengthAdjust="spacingAndGlyphs">R</tspan> <tspan x="623.82" y="771.80" textLength="13.40" lengthAdjust="spacingAndGlyphs">=</tspan> <tspan x="643.30" y="771.80" textLength="74.96" lengthAdjust="spacingAndGlyphs">0.6356</tspan></text>
<text y="805.20" font-family='"Liberation Sans", sans-serif' font-size="24.30"><tspan x="617.12" y="805.20" textLength="13.91" lengthAdjust="spacingAndGlyphs">P</tspan> <tspan x="637.11" y="805.20" textLength="13.40" lengthAdjust="spacingAndGlyphs">=</tspan> <tspan x="656.59" y="805.20" textLength="47.69" lengthAdjust="spacingAndGlyphs">0.03</tspan></text>
<text y="859.80" font-family='"Liberation Sans", sans-serif' font-size="24.30"><tspan x="583.26" y="859.23" textLength="16.99" lengthAdjust="spacingAndGlyphs" font-size="28.13">●</tspan><tspan x="600.38" y="859.80">:</tspan> <tspan x="612.84" y="859.80" textLength="123.26" lengthAdjust="spacingAndGlyphs">Submucosa</tspan></text>
<text y="893.30" font-family='"Liberation Sans", sans-serif' font-size="24.30"><tspan x="548.27" y="893.30" textLength="12.18" lengthAdjust="spacingAndGlyphs">y</tspan> <tspan x="566.52" y="893.30" textLength="13.40" lengthAdjust="spacingAndGlyphs">=</tspan> <tspan x="586.00" y="893.30" textLength="86.61" lengthAdjust="spacingAndGlyphs">0.5459x</tspan> <tspan x="678.69" y="893.30" textLength="13.40" lengthAdjust="spacingAndGlyphs">+</tspan> <tspan x="698.17" y="893.30" textLength="74.96" lengthAdjust="spacingAndGlyphs">0.1599</tspan></text>
<text y="926.90" font-family='"Liberation Sans", sans-serif' font-size="24.30"><tspan x="603.14" y="926.90" textLength="14.61" lengthAdjust="spacingAndGlyphs">R</tspan> <tspan x="623.82" y="926.90" textLength="13.40" lengthAdjust="spacingAndGlyphs">=</tspan> <tspan x="643.30" y="926.90" textLength="74.96" lengthAdjust="spacingAndGlyphs">0.6786</tspan></text>
<text y="960.30" font-family='"Liberation Sans", sans-serif' font-size="24.30"><tspan x="617.12" y="960.30" textLength="13.91" lengthAdjust="spacingAndGlyphs">P</tspan> <tspan x="637.11" y="960.30" textLength="13.40" lengthAdjust="spacingAndGlyphs">=</tspan> <tspan x="656.59" y="960.30" textLength="47.69" lengthAdjust="spacingAndGlyphs">0.02</tspan></text>
<text y="1023.70" font-family='"Liberation Sans", sans-serif' font-size="24.30"><tspan x="606.76" y="1023.02" textLength="16.50" lengthAdjust="spacingAndGlyphs" font-size="31.18">♦</tspan><tspan x="627.88" y="1023.70">:</tspan> <tspan x="640.56" y="1023.70" textLength="78.64" lengthAdjust="spacingAndGlyphs">Muscle</tspan></text>
<text y="1056.40" font-family='"Liberation Sans", sans-serif' font-size="24.30"><tspan x="548.17" y="1056.40" textLength="12.18" lengthAdjust="spacingAndGlyphs">y</tspan> <tspan x="566.42" y="1056.40" textLength="13.40" lengthAdjust="spacingAndGlyphs">=</tspan> <tspan x="585.90" y="1056.40" textLength="86.61" lengthAdjust="spacingAndGlyphs">0.8158x</tspan> <tspan x="678.59" y="1056.40" textLength="13.40" lengthAdjust="spacingAndGlyphs">+</tspan> <tspan x="698.07" y="1056.40" textLength="74.96" lengthAdjust="spacingAndGlyphs">0.1079</tspan></text>
<text y="1089.80" font-family='"Liberation Sans", sans-serif' font-size="24.30"><tspan x="603.04" y="1089.80" textLength="14.61" lengthAdjust="spacingAndGlyphs">R</tspan> <tspan x="623.72" y="1089.80" textLength="13.40" lengthAdjust="spacingAndGlyphs">=</tspan> <tspan x="643.20" y="1089.80" textLength="74.96" lengthAdjust="spacingAndGlyphs">0.6923</tspan></text>
<text y="1123.20" font-family='"Liberation Sans", sans-serif' font-size="24.30"><tspan x="617.02" y="1123.20" textLength="13.91" lengthAdjust="spacingAndGlyphs">P</tspan> <tspan x="637.01" y="1123.20" textLength="13.40" lengthAdjust="spacingAndGlyphs">=</tspan> <tspan x="656.49" y="1123.20" textLength="47.69" lengthAdjust="spacingAndGlyphs">0.01</tspan></text>
<text y="709.20" font-family='"Liberation Sans", sans-serif' font-size="24.30"><tspan x="1437.03" y="709.60" textLength="15.34" lengthAdjust="spacingAndGlyphs" font-size="28.00" font-family='"Liberation Serif", serif' fill="#1a1a1a">o</tspan><tspan x="1452.78" y="709.20">:</tspan>  <tspan x="1471.62" y="709.20" textLength="84.48" lengthAdjust="spacingAndGlyphs">Mucosa</tspan></text>
<text y="741.40" font-family='"Liberation Sans", sans-serif' font-size="24.30"><tspan x="1385.17" y="741.40" textLength="12.18" lengthAdjust="spacingAndGlyphs">y</tspan> <tspan x="1403.42" y="741.40" textLength="13.40" lengthAdjust="spacingAndGlyphs">=</tspan> <tspan x="1422.90" y="741.40" textLength="86.61" lengthAdjust="spacingAndGlyphs">0.4885x</tspan> <tspan x="1515.59" y="741.40" textLength="13.40" lengthAdjust="spacingAndGlyphs">+</tspan> <tspan x="1535.07" y="741.40" textLength="74.96" lengthAdjust="spacingAndGlyphs">0.0235</tspan></text>
<text y="774.60" font-family='"Liberation Sans", sans-serif' font-size="24.30"><tspan x="1446.85" y="774.60" textLength="14.61" lengthAdjust="spacingAndGlyphs">R</tspan> <tspan x="1467.54" y="774.60" textLength="13.40" lengthAdjust="spacingAndGlyphs">=</tspan> <tspan x="1487.02" y="774.60" textLength="61.33" lengthAdjust="spacingAndGlyphs">0.798</tspan></text>
<text y="808.00" font-family='"Liberation Sans", sans-serif' font-size="24.30"><tspan x="1447.20" y="808.00" textLength="13.91" lengthAdjust="spacingAndGlyphs">P</tspan> <tspan x="1467.19" y="808.00" textLength="13.40" lengthAdjust="spacingAndGlyphs">=</tspan> <tspan x="1486.67" y="808.00" textLength="61.33" lengthAdjust="spacingAndGlyphs">0.004</tspan></text>
<text y="872.20" font-family='"Liberation Sans", sans-serif' font-size="24.30"><tspan x="1436.97" y="871.70" textLength="13.18" lengthAdjust="spacingAndGlyphs" font-size="24.61">♦</tspan><tspan x="1454.78" y="872.20">:</tspan> <tspan x="1467.24" y="872.20" textLength="123.46" lengthAdjust="spacingAndGlyphs">Submucosa</tspan></text>
<text y="904.40" font-family='"Liberation Sans", sans-serif' font-size="24.30"><tspan x="1403.05" y="904.40" textLength="12.18" lengthAdjust="spacingAndGlyphs">y</tspan> <tspan x="1421.30" y="904.40" textLength="13.40" lengthAdjust="spacingAndGlyphs">=</tspan> <tspan x="1440.78" y="904.40" textLength="86.61" lengthAdjust="spacingAndGlyphs">0.7319x</tspan> <tspan x="1533.48" y="904.40" textLength="8.24" lengthAdjust="spacingAndGlyphs">-</tspan> <tspan x="1547.79" y="904.40" textLength="74.96" lengthAdjust="spacingAndGlyphs">0.0373</tspan></text>
<text y="937.60" font-family='"Liberation Sans", sans-serif' font-size="24.30"><tspan x="1462.15" y="937.60" textLength="14.61" lengthAdjust="spacingAndGlyphs">R</tspan> <tspan x="1482.84" y="937.60" textLength="13.40" lengthAdjust="spacingAndGlyphs">=</tspan> <tspan x="1502.32" y="937.60" textLength="61.33" lengthAdjust="spacingAndGlyphs">0.614</tspan></text>
<text y="971.30" font-family='"Liberation Sans", sans-serif' font-size="24.30"><tspan x="1462.50" y="971.30" textLength="13.91" lengthAdjust="spacingAndGlyphs">P</tspan> <tspan x="1482.49" y="971.30" textLength="13.40" lengthAdjust="spacingAndGlyphs">=</tspan> <tspan x="1501.97" y="971.30" textLength="61.33" lengthAdjust="spacingAndGlyphs">0.025</tspan></text>
<text y="1041.90" font-family='"Liberation Sans", sans-serif' font-size="24.30"><tspan x="1461.46" y="1041.33" textLength="16.99" lengthAdjust="spacingAndGlyphs" font-size="28.13">●</tspan><tspan x="1478.08" y="1041.90">:</tspan> <tspan x="1490.76" y="1041.90" textLength="78.95" lengthAdjust="spacingAndGlyphs">Muscle</tspan></text>
<text y="1075.20" font-family='"Liberation Sans", sans-serif' font-size="24.30"><tspan x="1403.17" y="1075.20" textLength="12.18" lengthAdjust="spacingAndGlyphs">y</tspan> <tspan x="1421.42" y="1075.20" textLength="13.40" lengthAdjust="spacingAndGlyphs">=</tspan> <tspan x="1440.90" y="1075.20" textLength="86.61" lengthAdjust="spacingAndGlyphs">0.9777x</tspan> <tspan x="1533.59" y="1075.20" textLength="13.40" lengthAdjust="spacingAndGlyphs">+</tspan> <tspan x="1553.07" y="1075.20" textLength="74.96" lengthAdjust="spacingAndGlyphs">0.0814</tspan></text>
<text y="1108.60" font-family='"Liberation Sans", sans-serif' font-size="24.30"><tspan x="1464.85" y="1108.60" textLength="14.61" lengthAdjust="spacingAndGlyphs">R</tspan> <tspan x="1485.54" y="1108.60" textLength="13.40" lengthAdjust="spacingAndGlyphs">=</tspan> <tspan x="1505.02" y="1108.60" textLength="61.33" lengthAdjust="spacingAndGlyphs">0.745</tspan></text>
<text y="1142.00" font-family='"Liberation Sans", sans-serif' font-size="24.30"><tspan x="1465.20" y="1142.00" textLength="13.91" lengthAdjust="spacingAndGlyphs">P</tspan> <tspan x="1485.19" y="1142.00" textLength="13.40" lengthAdjust="spacingAndGlyphs">=</tspan> <tspan x="1504.67" y="1142.00" textLength="61.33" lengthAdjust="spacingAndGlyphs">0.007</tspan></text>
</g>
</svg>
</body></html>
